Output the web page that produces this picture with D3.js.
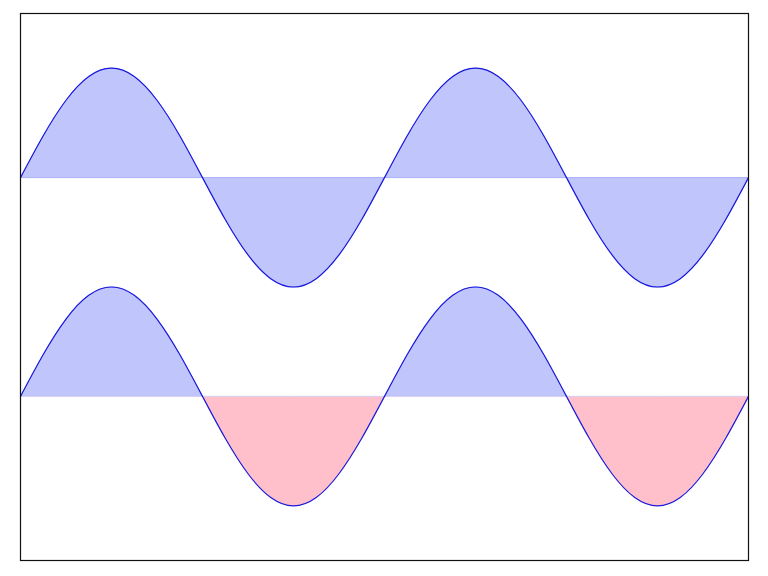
<!DOCTYPE html>
<html><head><meta charset="utf-8">
<script src="https://cdn.jsdelivr.net/npm/d3@7"></script>
<style>html,body{margin:0;padding:0;background:#fff;}</style>
</head><body>
<svg id="chart" width="768" height="576"></svg>
<script>
// x in periods, wave values
const xPeriods = [0,0.0625,0.125,0.1875,0.25,0.3125,0.375,0.4375,0.5,0.5625,0.625,0.6875,0.75,0.8125,0.875,0.9375,1,
  1.0625,1.125,1.1875,1.25,1.3125,1.375,1.4375,1.5,1.5625,1.625,1.6875,1.75,1.8125,1.875,1.9375,2];
const wave = [0,0.383,0.707,0.924,1,0.924,0.707,0.383,0,-0.383,-0.707,-0.924,-1,-0.924,-0.707,-0.383,0,
  0.383,0.707,0.924,1,0.924,0.707,0.383,0,-0.383,-0.707,-0.924,-1,-0.924,-0.707,-0.383,0];
const topBaseline = 1;
const bottomBaseline = -1;
const yDomain = [-2.5, 2.5];

const svg = d3.select("#chart");
const L = 20.5, R = 748.5, T = 13.5, B = 560.5;
const x = d3.scaleLinear().domain([0, 2]).range([L, R]);
const y = d3.scaleLinear().domain(yDomain).range([B, T]);

const topData = xPeriods.map((p, i) => ({x: p, y: wave[i] + topBaseline}));
const botData = xPeriods.map((p, i) => ({x: p, y: wave[i] + bottomBaseline}));

const blueFill = "#c0c5fc", redFill = "#ffc0cb", edgeBlue = "#aab0f8", lineBlue = "#1a1adc";

const defs = svg.append("defs");
defs.append("clipPath").attr("id", "frame").append("rect")
  .attr("x", L).attr("y", T).attr("width", R - L).attr("height", B - T);
defs.append("clipPath").attr("id", "above").append("rect")
  .attr("x", L).attr("y", T).attr("width", R - L).attr("height", y(bottomBaseline) - T);
defs.append("clipPath").attr("id", "below").append("rect")
  .attr("x", L).attr("y", y(bottomBaseline)).attr("width", R - L).attr("height", B - y(bottomBaseline));

const g = svg.append("g").attr("clip-path", "url(#frame)");

function areaFor(base) {
  return d3.area().x(d => x(d.x)).y0(y(base)).y1(d => y(d.y)).curve(d3.curveNatural);
}
const line = d3.line().x(d => x(d.x)).y(d => y(d.y)).curve(d3.curveNatural);

g.append("path").datum(topData).attr("d", areaFor(topBaseline))
  .attr("fill", blueFill).attr("stroke", edgeBlue).attr("stroke-width", 1);
g.append("g").attr("clip-path", "url(#above)").append("path").datum(botData)
  .attr("d", areaFor(bottomBaseline)).attr("fill", blueFill).attr("stroke", edgeBlue).attr("stroke-width", 1);
g.append("g").attr("clip-path", "url(#below)").append("path").datum(botData)
  .attr("d", areaFor(bottomBaseline)).attr("fill", redFill).attr("stroke", "none");

g.append("path").datum(topData).attr("d", line).attr("fill", "none")
  .attr("stroke", lineBlue).attr("stroke-width", 1.2);
g.append("path").datum(botData).attr("d", line).attr("fill", "none")
  .attr("stroke", lineBlue).attr("stroke-width", 1.2);

svg.append("rect").attr("x", L).attr("y", T).attr("width", R - L).attr("height", B - T)
  .attr("fill", "none").attr("stroke", "#111").attr("stroke-width", 1.2);
</script>
</body></html>
